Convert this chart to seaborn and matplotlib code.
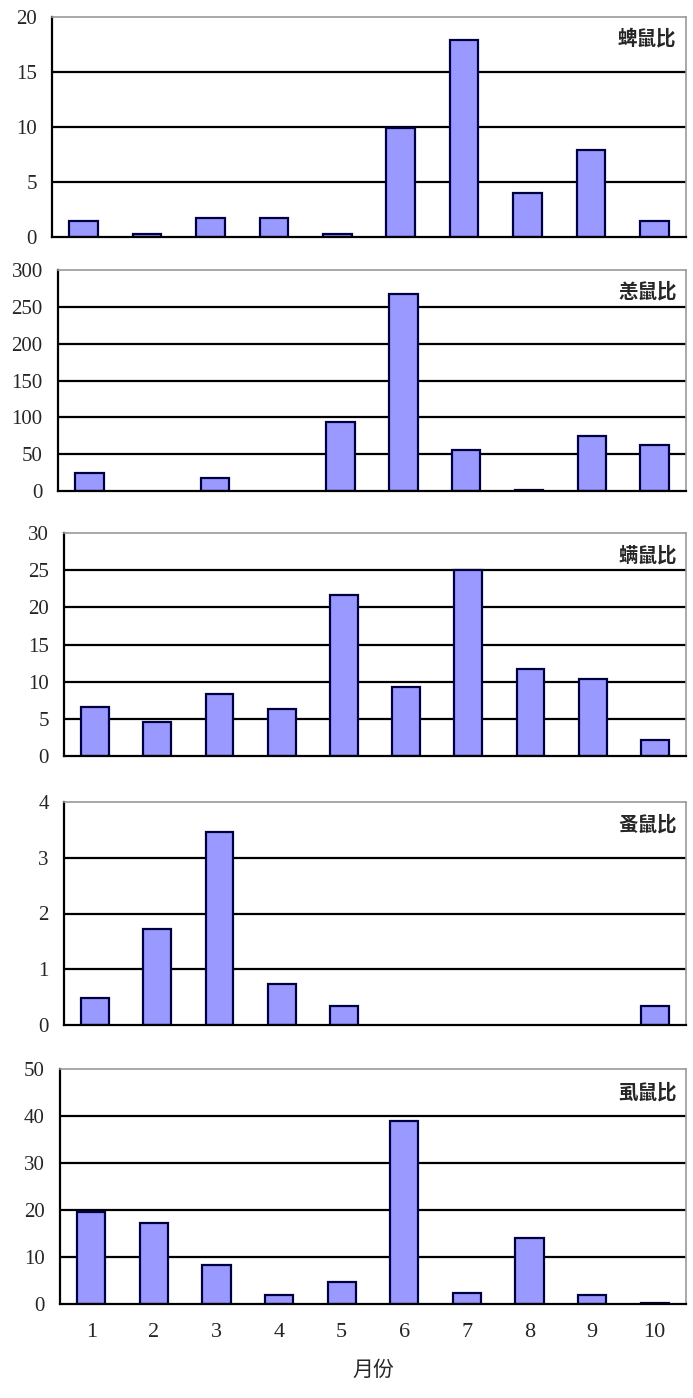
import numpy as np
import pandas as pd
import matplotlib
matplotlib.use("Agg")
import matplotlib.pyplot as plt
import seaborn as sns

sns.set_style("white")
plt.rcParams['font.family'] = ['Noto Sans CJK SC', 'DejaVu Sans']

# ------------------------------
# data
# ------------------------------
months = [1, 2, 3, 4, 5, 6, 7, 8, 9, 10]
tick_rat = [1.5, 0.3, 1.7, 1.7, 0.3, 9.9, 17.9, 4.0, 7.9, 1.5]
chigger_rat = [25, 0, 18, 0, 94, 268, 56, 2, 74, 63]
mite_rat = [6.6, 4.6, 8.3, 6.3, 21.7, 9.3, 25.0, 11.7, 10.4, 2.2]
flea_rat = [0.49, 1.73, 3.46, 0.74, 0.34, 0, 0, 0, 0, 0.34]
louse_rat = [19.5, 17.2, 8.4, 1.9, 4.7, 39.0, 2.4, 14.0, 1.9, 0.3]

names = ["蜱鼠比", "恙鼠比", "螨鼠比", "蚤鼠比", "虱鼠比"]
series = [tick_rat, chigger_rat, mite_rat, flea_rat, louse_rat]
yticks = [[0, 5, 10, 15, 20],
          [0, 50, 100, 150, 200, 250, 300],
          [0, 5, 10, 15, 20, 25, 30],
          [0, 1, 2, 3, 4],
          [0, 10, 20, 30, 40, 50]]

W, H = 693, 1398
# left, right, top, bottom in pixels
boxes = [(52, 686, 17, 237),
         (58, 686, 270, 491),
         (64, 686, 533, 756),
         (64, 686, 802, 1025),
         (60, 686, 1069, 1304)]

fig = plt.figure(figsize=(W / 100, H / 100), dpi=100)

for i, (name, vals, yt, box) in enumerate(zip(names, series, yticks, boxes)):
    l, r, t, b = box
    ax = fig.add_axes([l / W, 1 - b / H, (r - l) / W, (b - t) / H])
    df = pd.DataFrame({"月份": months, "值": vals})
    # zero values get no bar at all
    df["值"] = df["值"].replace(0, np.nan)
    sns.barplot(data=df, x="月份", y="值", ax=ax, color="#9999ff",
                saturation=1, width=0.45, edgecolor="#000040", linewidth=1.6)
    ax.set_xlim(-0.5, 9.5)
    ax.set_ylim(yt[0], yt[-1])
    ax.set_yticks(yt)
    ax.set_yticklabels([str(v) for v in yt], family="Liberation Serif", fontsize=15)
    for v in yt[1:-1]:
        ax.axhline(v, color="black", lw=1.6, zorder=0)
    ax.set_ylabel("")
    ax.set_xlabel("")
    ax.tick_params(axis="y", length=0, pad=11)
    for s in ["left", "bottom"]:
        ax.spines[s].set_color("black")
        ax.spines[s].set_linewidth(1.6)
    for s in ["top", "right"]:
        ax.spines[s].set_color("#999999")
        ax.spines[s].set_linewidth(1.2)
    ax.text(0.985, 0.9, name, transform=ax.transAxes, ha="right", va="center",
            fontsize=14, fontweight="bold")
    if i < 4:
        ax.set_xticks([])
    else:
        ax.set_xticks(range(10))
        ax.set_xticklabels([str(m) for m in months], family="Liberation Serif", fontsize=16)
        ax.tick_params(axis="x", which="major", length=0, pad=14)
        ax.set_xticks(np.arange(0.5, 9.5, 1), minor=True)
        ax.tick_params(axis="x", which="minor", direction="in", length=7,
                       width=1.5, color="black")
        ax.set_xlabel("月份", fontsize=15, labelpad=12)

fig.savefig("out.png", dpi=100)
